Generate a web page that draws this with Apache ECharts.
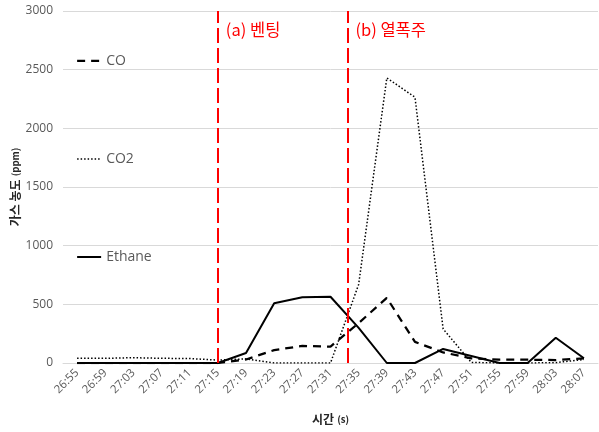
<!DOCTYPE html>
<html>
<head>
<meta charset="utf-8">
<script src="https://cdn.jsdelivr.net/npm/echarts@6/dist/echarts.min.js"></script>
<style>html,body{margin:0;padding:0;background:#fff;}#c{width:599px;height:432px;}</style>
</head>
<body>
<div id="c"></div>
<script>
const categories = ['26:55','26:59','27:03','27:07','27:11','27:15','27:19','27:23','27:27','27:31','27:35','27:39','27:43','27:47','27:51','27:55','27:59','28:03','28:07'];
const coValues     = [0, 0, 0, 0, 0, 0, 30, 110, 145, 140, 340, 555, 180, 90, 40, 28, 28, 25, 40];
const co2Values    = [40, 40, 45, 40, 38, 25, 35, 0, 0, 0, 670, 2430, 2265, 290, 5, 0, 0, 3, 30];
const ethaneValues = [0, 0, 0, 0, 0, 0, 85, 510, 560, 565, 300, 0, 0, 120, 60, 0, 0, 215, 40];
const eventPositions = [5, 9.6];
const eventLabels = ['(a) 벤팅', '(b) 열폭주'];
const yTicks = [0, 500, 1000, 1500, 2000, 2500, 3000];

const FONT = '"Open Sans", "Noto Sans CJK KR", sans-serif';
const KFONT = '"Noto Sans CJK KR", sans-serif';
const dashCO = [8, 6], dashCO2 = [1.5, 2];
const chart = echarts.init(document.getElementById('c'));
chart.setOption({
  animation: false,
  textStyle: { fontFamily: FONT },
  grid: { left: 63, right: 1, top: 11, bottom: 69, outerBoundsMode: 'none', containLabel: false },
  legend: {
    orient: 'vertical',
    left: 71,
    top: 49,
    itemGap: 84,
    itemWidth: 24,
    itemHeight: 14,
    textStyle: { color: '#595959', fontSize: 14, fontFamily: FONT },
    data: [
      { name: 'CO', itemStyle: { color: 'transparent', borderWidth: 0 }, lineStyle: { color: '#000', width: 2.25, type: dashCO } },
      { name: 'CO2', itemStyle: { color: 'transparent', borderWidth: 0 }, lineStyle: { color: '#000', width: 1.5, type: dashCO2 } },
      { name: 'Ethane', itemStyle: { color: 'transparent', borderWidth: 0 }, lineStyle: { color: '#000', width: 2, type: 'solid' } }
    ]
  },
  xAxis: [{
    type: 'category',
    data: categories,
    boundaryGap: true,
    axisLine: { lineStyle: { color: '#d9d9d9' } },
    axisTick: { show: false },
    axisLabel: { rotate: 45, color: '#595959', fontSize: 11.5, margin: 8, interval: 0 },
    name: '{b|시간} {s|(s)}',
    nameLocation: 'middle',
    nameGap: 50,
    nameMoveOverlap: false,
    nameTextStyle: {
      rich: {
        b: { fontWeight: 'bold', fontSize: 12, color: '#262626', fontFamily: KFONT },
        s: { fontWeight: 'bold', fontSize: 9.5, color: '#262626', fontFamily: KFONT }
      }
    }
  }, {
    type: 'value',
    min: -0.5,
    max: categories.length - 0.5,
    show: false
  }],
  yAxis: {
    type: 'value',
    min: yTicks[0],
    max: yTicks[yTicks.length - 1],
    interval: 500,
    axisLine: { show: false },
    axisTick: { show: false },
    splitLine: { lineStyle: { color: '#d9d9d9', width: 1 } },
    axisLabel: { color: '#595959', fontSize: 12, margin: 10, formatter: v => String(v) },
    name: '{b|가스 농도} {s|(ppm)}',
    nameLocation: 'middle',
    nameGap: 42,
    nameMoveOverlap: false,
    nameTextStyle: {
      rich: {
        b: { fontWeight: 'bold', fontSize: 12, color: '#262626', fontFamily: KFONT },
        s: { fontWeight: 'bold', fontSize: 9.5, color: '#262626', fontFamily: KFONT }
      }
    }
  },
  series: [
    {
      name: 'CO', type: 'line', data: coValues, symbol: 'none',
      itemStyle: { color: '#000' },
      lineStyle: { color: '#000', width: 2.25, type: dashCO }
    },
    {
      name: 'CO2', type: 'line', data: co2Values, symbol: 'none',
      itemStyle: { color: '#000' },
      lineStyle: { color: '#000', width: 1.5, type: dashCO2 }
    },
    {
      name: 'Ethane', type: 'line', data: ethaneValues, symbol: 'none',
      itemStyle: { color: '#000' },
      lineStyle: { color: '#000', width: 2, type: 'solid' }
    },
    {
      name: 'events', type: 'scatter', xAxisIndex: 1, data: [],
      silent: true,
      markLine: {
        symbol: 'none',
        silent: true,
        label: { show: false },
        lineStyle: { color: '#ff0000', width: 2, type: [15, 5] },
        data: eventPositions.map(p => ({ xAxis: p }))
      },
      markPoint: {
        symbol: 'circle',
        symbolSize: 0,
        label: {
          show: true,
          position: 'right',
          distance: 8,
          color: '#ff0000',
          fontSize: 16.5,
          fontFamily: KFONT,
          formatter: p => p.name
        },
        data: eventPositions.map((p, i) => ({ name: eventLabels[i], coord: [p, 2840] }))
      }
    }
  ]
});
</script>
</body>
</html>
